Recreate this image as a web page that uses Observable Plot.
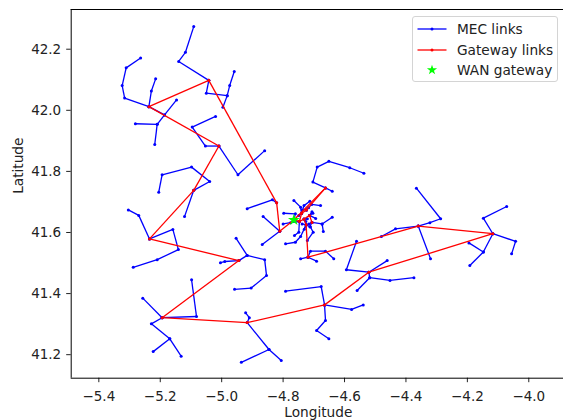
<!DOCTYPE html>
<html>
<head>
<meta charset="utf-8">
<script src="https://cdn.jsdelivr.net/npm/d3@7"></script>
<script src="https://cdn.jsdelivr.net/npm/@observablehq/plot@0.6"></script>
<style>
  body { margin: 0; background: #fff; }
  #chart { position: relative; width: 563px; height: 420px; overflow: hidden; font-family: "DejaVu Sans", sans-serif; color: #222; }
  .legend { position: absolute; left: 412px; top: 15.5px; width: 146px; height: 66px; border: 1px solid #d4d4d4; border-radius: 3px; background: rgba(255,255,255,0.85); box-sizing: border-box; }
  .legend .row { position: absolute; left: 0; height: 20px; width: 100%; font-size: 13.7px; line-height: 20px; }
  .legend svg { position: absolute; left: 4px; top: 0; }
  .legend span { position: absolute; left: 44px; top: 0; white-space: nowrap; }
</style>
</head>
<body>
<div id="chart"></div>
<script>
// Axis ticks
const xTicks = [-5.4, -5.2, -5.0, -4.8, -4.6, -4.4, -4.2, -4.0];
const yTicks = [41.2, 41.4, 41.6, 41.8, 42.0, 42.2];
const xDomain = [-5.490, -3.887];
const yDomain = [41.123, 42.330];

// Gateway nodes (longitude, latitude)
const gatewayNodes = [
  {id: "A", lon: -5.042, lat: 42.098},
  {id: "B", lon: -5.237, lat: 42.012},
  {id: "C", lon: -5.009, lat: 41.883},
  {id: "P", lon: -5.091, lat: 41.738},
  {id: "D", lon: -5.235, lat: 41.579},
  {id: "E", lon: -4.944, lat: 41.508},
  {id: "F", lon: -5.194, lat: 41.321},
  {id: "G", lon: -4.917, lat: 41.305},
  {id: "H", lon: -4.665, lat: 41.363},
  {id: "I", lon: -4.521, lat: 41.470},
  {id: "J", lon: -4.117, lat: 41.596},
  {id: "K", lon: -4.360, lat: 41.621},
  {id: "L", lon: -4.719, lat: 41.519},
  {id: "Q", lon: -4.821, lat: 41.697},
  {id: "N", lon: -4.811, lat: 41.604},
  {id: "M", lon: -4.662, lat: 41.746},
  {id: "S", lon: -4.765, lat: 41.641},
  {id: "R1", lon: -4.740, lat: 41.662},
  {id: "R2", lon: -4.724, lat: 41.674},
  {id: "R3", lon: -4.732, lat: 41.644},
  {id: "R4", lon: -4.714, lat: 41.656},
  {id: "R5", lon: -4.725, lat: 41.625},
  {id: "R6", lon: -4.747, lat: 41.636},
  {id: "R7", lon: -4.706, lat: 41.633}
];

// Gateway-to-gateway links
const gatewayLinks = [
  ["A", "B"], ["B", "C"], ["C", "P"], ["P", "D"], ["D", "E"], ["E", "F"],
  ["F", "G"], ["G", "H"], ["H", "I"], ["I", "J"], ["J", "K"], ["K", "L"],
  ["L", "R5"], ["A", "Q"], ["Q", "N"], ["N", "S"], ["S", "M"], ["M", "R2"],
  ["S", "R6"], ["R6", "R1"], ["R1", "R2"], ["R6", "R3"], ["R3", "R4"],
  ["R4", "R7"], ["R3", "R5"]
];

// WAN gateway location
const wanGateway = [{lon: -4.765, lat: 41.641}];

// MEC link chains: each starts at a gateway id or a node, then follows MEC nodes
const mecChains = [
  ["A", [-5.140, 42.160], [-5.118, 42.190], [-5.091, 42.274]],
  ["A", [-5.050, 42.056], [-4.982, 42.048], [-4.974, 42.081], [-4.959, 42.127]],
  [[-4.982, 42.048], [-4.996, 42.010]],
  ["B", [-5.316, 42.040], [-5.324, 42.081], [-5.311, 42.139], [-5.264, 42.171]],
  ["B", [-5.229, 42.063], [-5.215, 42.103]],
  ["B", [-5.186, 41.985], [-5.147, 42.034]],
  [[-5.186, 41.985], [-5.210, 41.954], [-5.281, 41.956]],
  [[-5.210, 41.954], [-5.218, 41.888]],
  ["C", [-5.053, 41.883], [-5.096, 41.945], [-5.020, 41.980]],
  ["C", [-4.947, 41.789], [-4.860, 41.868]],
  ["P", [-5.039, 41.767], [-5.098, 41.814], [-5.194, 41.789], [-5.205, 41.732]],
  ["P", [-5.121, 41.652]],
  ["D", [-5.270, 41.656], [-5.304, 41.674]],
  ["D", [-5.159, 41.610], [-5.141, 41.544], [-5.210, 41.511], [-5.288, 41.486]],
  ["E", [-4.917, 41.525], [-4.953, 41.581]],
  [[-4.917, 41.525], [-4.860, 41.511], [-4.854, 41.459], [-4.904, 41.418], [-4.958, 41.414]],
  ["E", [-4.990, 41.505], [-5.004, 41.501]],
  ["F", [-5.257, 41.385]],
  ["F", [-5.082, 41.325], [-5.098, 41.445]],
  ["F", [-5.229, 41.301], [-5.169, 41.252], [-5.132, 41.195]],
  [[-5.169, 41.252], [-5.223, 41.210]],
  ["G", [-4.910, 41.321], [-4.922, 41.337]],
  ["G", [-4.846, 41.217], [-4.806, 41.181]],
  [[-4.846, 41.217], [-4.936, 41.175]],
  ["H", [-4.676, 41.423], [-4.792, 41.408]],
  ["H", [-4.577, 41.348], [-4.539, 41.363]],
  ["H", [-4.662, 41.312], [-4.691, 41.279], [-4.651, 41.252]],
  ["I", [-4.461, 41.508]],
  ["I", [-4.594, 41.478], [-4.561, 41.571]],
  ["I", [-4.518, 41.452], [-4.452, 41.443], [-4.374, 41.452]],
  [[-4.518, 41.452], [-4.559, 41.410]],
  ["K", [-4.434, 41.612], [-4.480, 41.587]],
  ["K", [-4.320, 41.514]],
  ["K", [-4.322, 41.632], [-4.287, 41.645], [-4.366, 41.745]],
  ["J", [-4.148, 41.647], [-4.072, 41.685]],
  ["J", [-4.043, 41.571], [-4.056, 41.530]],
  ["J", [-4.148, 41.536], [-4.192, 41.492]],
  [[-4.148, 41.536], [-4.195, 41.566]],
  ["L", [-4.711, 41.539], [-4.662, 41.539], [-4.635, 41.514]],
  ["L", [-4.691, 41.506]],
  ["L", [-4.743, 41.514]],
  ["M", [-4.703, 41.765], [-4.689, 41.814], [-4.651, 41.833], [-4.583, 41.812], [-4.537, 41.794]],
  ["M", [-4.640, 41.735]],
  ["Q", [-4.835, 41.707], [-4.917, 41.678]],
  ["N", [-4.865, 41.652]],
  ["N", [-4.868, 41.561]],
  ["R6", [-4.776, 41.632], [-4.800, 41.628]],
  ["S", [-4.760, 41.661], [-4.798, 41.663]],
  ["R1", [-4.732, 41.688], [-4.713, 41.702]],
  ["R2", [-4.707, 41.692], [-4.678, 41.688]],
  ["R1", [-4.743, 41.683], [-4.765, 41.705]],
  ["R7", [-4.673, 41.628], [-4.640, 41.650]],
  [[-4.673, 41.628], [-4.669, 41.603]],
  ["R5", [-4.711, 41.618], [-4.702, 41.601], [-4.721, 41.574]],
  ["R6", [-4.749, 41.601], [-4.763, 41.590]],
  ["R5", [-4.743, 41.587], [-4.760, 41.568], [-4.792, 41.563]],
  ["R3", [-4.721, 41.645]],
  ["R4", [-4.703, 41.663]],
  ["R7", [-4.716, 41.628]],
  ["R5", [-4.738, 41.628]],
  ["R2", [-4.738, 41.674]],
  ["R1", [-4.749, 41.656]],
  ["R4", [-4.694, 41.646]],
  ["R4", [-4.706, 41.668]],
  ["R7", [-4.713, 41.619]],
  ["R3", [-4.726, 41.636]],
  ["R2", [-4.717, 41.681]],
  ["R5", [-4.731, 41.611]]
];

// Resolve node references into coordinates
const byId = new Map(gatewayNodes.map(d => [d.id, [d.lon, d.lat]]));
const resolve = p => (typeof p === "string" ? byId.get(p) : p);

const mecSegs = [];
const mecPts = [];
for (const chain of mecChains) {
  const pts = chain.map(resolve);
  pts.forEach(p => mecPts.push({lon: p[0], lat: p[1]}));
  for (let i = 1; i < pts.length; i++) {
    mecSegs.push({x1: pts[i - 1][0], y1: pts[i - 1][1], x2: pts[i][0], y2: pts[i][1]});
  }
}
const gwSegs = gatewayLinks.map(([a, b]) => {
  const p = byId.get(a), q = byId.get(b);
  return {x1: p[0], y1: p[1], x2: q[0], y2: q[1]};
});

const fmt = d => d.toFixed(1).replace("-", "\u2212");

const chart = Plot.plot({
  width: 563,
  height: 420,
  marginLeft: 70.7,
  marginRight: 0,
  marginTop: 9,
  marginBottom: 42.3,
  style: {fontFamily: "DejaVu Sans", fontSize: "13.5px", color: "#222", background: "#fff"},
  x: {domain: xDomain, ticks: xTicks, tickFormat: fmt, tickSize: 4.5, tickPadding: 9, label: null},
  y: {domain: yDomain, ticks: yTicks, tickFormat: fmt, tickSize: 4.5, tickPadding: 5.5, label: null},
  marks: [
    Plot.link(mecSegs, {x1: "x1", y1: "y1", x2: "x2", y2: "y2", stroke: "#0000ff", strokeWidth: 1.3}),
    Plot.dot(mecPts, {x: "lon", y: "lat", r: 1.5, fill: "#0000ff"}),
    Plot.link(gwSegs, {x1: "x1", y1: "y1", x2: "x2", y2: "y2", stroke: "#ff0000", strokeWidth: 1.3}),
    Plot.dot(gatewayNodes, {x: "lon", y: "lat", r: 1.5, fill: "#ff0000"}),
    Plot.dot(wanGateway, {x: "lon", y: "lat", symbol: "star", r: 3.7, fill: "#00ff00"}),
    Plot.ruleX([xDomain[0]], {stroke: "#000", strokeWidth: 1}),
    Plot.ruleY([yDomain[0], yDomain[1]], {stroke: "#000", strokeWidth: 1}),
    Plot.text(["Longitude"], {frameAnchor: "bottom", dx: 1, dy: 39, fontSize: 13.7, fill: "#222"}),
    Plot.text(["Latitude"], {frameAnchor: "left", dx: -52.4, rotate: -90, fontSize: 13.7, fill: "#222"})
  ]
});

const root = document.getElementById("chart");
root.appendChild(chart);

// Legend box
const legendItems = [
  {label: "MEC links", kind: "line", color: "#0000ff"},
  {label: "Gateway links", kind: "line", color: "#ff0000"},
  {label: "WAN gateway", kind: "star", color: "#00ff00"}
];
const legend = document.createElement("div");
legend.className = "legend";
legendItems.forEach((item, i) => {
  const row = document.createElement("div");
  row.className = "row";
  row.style.top = (2.5 + i * 20.5) + "px";
  const sw = d3.create("svg").attr("width", 32).attr("height", 20);
  if (item.kind === "line") {
    sw.append("line").attr("x1", 0.5).attr("x2", 29.5).attr("y1", 10).attr("y2", 10)
      .attr("stroke", item.color).attr("stroke-width", 1.3);
    sw.append("circle").attr("cx", 15).attr("cy", 10).attr("r", 1.5).attr("fill", item.color);
  } else {
    sw.append("path").attr("transform", "translate(15,10)")
      .attr("d", d3.symbol(d3.symbolStar, 3.2 * 3.2 * Math.PI)()).attr("fill", item.color);
  }
  row.appendChild(sw.node());
  const span = document.createElement("span");
  span.textContent = item.label;
  row.appendChild(span);
  legend.appendChild(row);
});
root.appendChild(legend);
</script>
</body>
</html>
